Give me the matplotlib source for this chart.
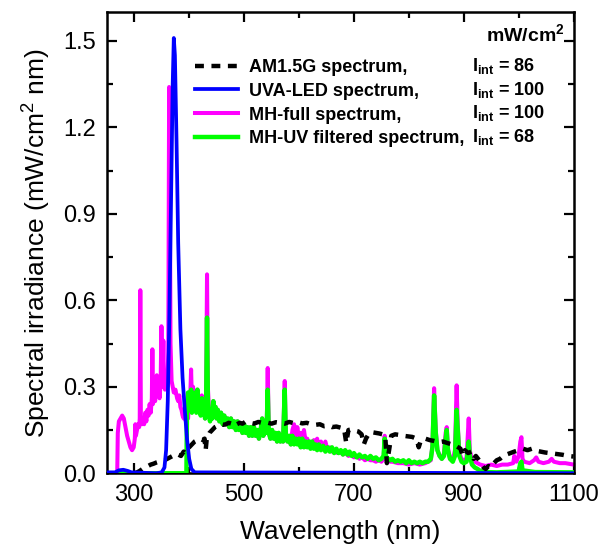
import matplotlib
matplotlib.use("Agg")
import matplotlib.pyplot as plt
from matplotlib.ticker import MultipleLocator

plt.rcParams["font.family"] = ["Liberation Sans", "DejaVu Sans"]
plt.rcParams["mathtext.fontset"] = "custom"
plt.rcParams["mathtext.rm"] = "Liberation Sans"
plt.rcParams["mathtext.bf"] = "Liberation Sans:bold"

# ---- data (wavelength nm, irradiance mW/cm2 nm) ----
am15_wl = [300, 305, 310, 315, 320, 325, 330, 335, 340, 345, 350, 355, 360, 365, 370,
           375, 380, 385, 390, 393, 397, 400, 405, 410, 415, 420, 425, 428, 430, 432,
           437, 442, 447, 452, 457, 462, 467, 472, 477, 482, 487, 492, 497, 502, 510,
           518, 526, 534, 542, 550, 558, 566, 574, 582, 590, 598, 606, 614, 622, 630,
           638, 646, 654, 660, 668, 676, 682, 686, 690, 696, 702, 708, 714, 718, 722,
           728, 734, 740, 746, 752, 757, 760, 764, 768, 775, 782, 790, 798, 806, 814,
           818, 822, 830, 838, 846, 854, 862, 870, 878, 886, 894, 898, 902, 908, 914,
           918, 922, 928, 932, 936, 940, 945, 950, 955, 960, 966, 972, 978, 985, 992,
           1000, 1008, 1016, 1024, 1032, 1040, 1048, 1056, 1064, 1072, 1080, 1090, 1100]
am15_val = [0.0, 0.003, 0.008, 0.015, 0.02, 0.025, 0.03, 0.033, 0.037, 0.04, 0.045, 0.045,
            0.05, 0.055, 0.06, 0.058, 0.065, 0.06, 0.075, 0.07, 0.085, 0.09, 0.10, 0.11,
            0.115, 0.12, 0.115, 0.12, 0.08, 0.12, 0.14, 0.15, 0.16, 0.165, 0.17, 0.168,
            0.17, 0.175, 0.172, 0.178, 0.17, 0.175, 0.172, 0.178, 0.175, 0.172, 0.178,
            0.174, 0.176, 0.172, 0.177, 0.175, 0.172, 0.178, 0.174, 0.177, 0.173, 0.175,
            0.17, 0.168, 0.17, 0.163, 0.165, 0.16, 0.162, 0.158, 0.155, 0.105, 0.15,
            0.152, 0.148, 0.145, 0.135, 0.10, 0.12, 0.14, 0.142, 0.14, 0.138, 0.135,
            0.13, 0.035, 0.08, 0.13, 0.135, 0.133, 0.13, 0.128, 0.126, 0.12, 0.09, 0.115,
            0.12, 0.115, 0.112, 0.108, 0.11, 0.105, 0.10, 0.095, 0.085, 0.06, 0.08, 0.07,
            0.075, 0.05, 0.06, 0.045, 0.03, 0.02, 0.015, 0.025, 0.02, 0.035, 0.045, 0.05,
            0.06, 0.065, 0.07, 0.075, 0.08, 0.085, 0.08, 0.085, 0.078, 0.075, 0.072, 0.07,
            0.068, 0.066, 0.064, 0.06, 0.058]

led_wl = [250, 265, 272, 280, 288, 295, 340, 350, 355, 358, 361, 364, 367, 370, 372,
          374, 377, 380, 384, 388, 392, 396, 400, 404, 410, 1100]
led_val = [0.003, 0.003, 0.01, 0.012, 0.008, 0.003, 0.0, 0.003, 0.02, 0.08, 0.25, 0.55,
           0.95, 1.35, 1.51, 1.45, 1.15, 0.80, 0.50, 0.33, 0.22, 0.12, 0.05, 0.015,
           0.003, 0.0]

mh_wl = [266, 269, 270, 272, 275, 278, 281, 284, 287, 290, 293, 296, 299, 301, 302, 303,
         305, 307, 309, 310, 311, 312, 314, 316, 318, 320, 322, 324, 326, 328, 330, 332,
         333, 334, 336, 338, 340, 341, 342, 344, 346, 348, 349.5, 351, 352, 353, 354,
         356, 358, 360, 362, 363.5, 365, 366, 368, 370, 372, 375, 378, 380, 382, 384,
         386, 388, 390, 392, 394, 396, 398, 400, 402, 403.5, 405, 407, 409, 411, 413,
         415, 417, 419, 421, 423, 425, 427, 429, 431, 432.5, 434, 436, 438,
         440, 442, 444, 446, 448, 450, 452, 455, 458, 461, 464, 467, 470, 473, 476, 479,
         482, 485, 488, 491, 494, 497, 500, 503, 506, 509, 512, 515, 518, 521, 524, 527,
         530, 533, 535, 538, 541, 543, 545, 548, 551, 554, 557, 560, 563, 566, 569, 571,
         574, 576, 579, 582, 585, 588, 591, 594, 597, 600, 603, 606, 609, 612, 615, 618,
         621, 624, 627, 630, 633, 636, 640, 644, 648, 652, 656, 660, 665, 670, 675, 680,
         685, 690, 695, 700, 705, 710, 715, 720, 725, 730, 735, 740, 745, 750, 754, 756,
         758, 762, 766, 770, 780, 790, 800, 810, 820, 830, 840, 843, 846, 849, 852, 856,
         860, 864, 867, 869, 871, 875, 880, 884, 887, 889, 892, 896, 900, 905, 909, 911,
         915, 920, 925, 930, 940, 950, 960, 970, 980, 990, 992, 996, 1000, 1003, 1005,
         1007, 1010, 1020, 1028, 1032, 1036, 1045, 1055, 1060, 1064, 1075, 1085, 1100]
mh_val = [0.0, 0.0, 0.14, 0.18, 0.19, 0.20, 0.19, 0.16, 0.13, 0.11, 0.09, 0.08, 0.09, 0.12,
          0.17, 0.13, 0.15, 0.17, 0.16, 0.19, 0.635, 0.20, 0.17, 0.19, 0.17, 0.21, 0.18,
          0.22, 0.20, 0.24, 0.21, 0.26, 0.43, 0.24, 0.28, 0.25, 0.29, 0.34, 0.27, 0.30,
          0.26, 0.31, 0.51, 0.30, 0.36, 0.46, 0.31, 0.29, 0.33, 0.30, 0.42, 1.34, 0.9,
          0.45, 0.32, 0.30, 0.28, 0.29, 0.26, 0.25, 0.27, 0.23, 0.22, 0.20, 0.19, 0.22,
          0.18, 0.20, 0.19, 0.26, 0.27, 0.36, 0.25, 0.30, 0.24, 0.28, 0.22, 0.29, 0.23,
          0.26, 0.21, 0.27, 0.22, 0.24, 0.19, 0.28, 0.69, 0.30, 0.22, 0.19,
          0.22, 0.19, 0.25, 0.20, 0.23, 0.19, 0.22, 0.18, 0.21, 0.17, 0.20, 0.17, 0.19,
          0.16, 0.19, 0.16, 0.18, 0.15, 0.18, 0.15, 0.17, 0.14, 0.17, 0.14, 0.16, 0.13,
          0.16, 0.13, 0.16, 0.13, 0.15, 0.12, 0.15, 0.19, 0.13, 0.15, 0.14, 0.365, 0.14,
          0.12, 0.15, 0.12, 0.14, 0.11, 0.14, 0.11, 0.13, 0.11, 0.32, 0.13, 0.11, 0.13,
          0.10, 0.15, 0.17, 0.13, 0.16, 0.12, 0.14, 0.12, 0.15, 0.11, 0.12, 0.10, 0.11,
          0.09, 0.115, 0.10, 0.12, 0.09, 0.11, 0.085, 0.11, 0.08, 0.09, 0.075, 0.08,
          0.07, 0.075, 0.065, 0.07, 0.06, 0.065, 0.055, 0.06, 0.05, 0.055, 0.045, 0.05,
          0.045, 0.045, 0.04, 0.045, 0.04, 0.05, 0.13, 0.05, 0.045, 0.04, 0.04, 0.035,
          0.035, 0.03, 0.035, 0.03, 0.035, 0.045, 0.10, 0.295, 0.15, 0.08, 0.06, 0.05,
          0.07, 0.14, 0.16, 0.09, 0.05, 0.045, 0.08, 0.305, 0.17, 0.07, 0.05, 0.045,
          0.05, 0.19, 0.08, 0.045, 0.04, 0.035, 0.03, 0.025, 0.03, 0.025, 0.03, 0.03,
          0.035, 0.06, 0.04, 0.06, 0.11, 0.125, 0.05, 0.04, 0.035, 0.045, 0.055, 0.04,
          0.035, 0.04, 0.05, 0.04, 0.035, 0.035, 0.03]

uv_wl = [250, 395, 396, 398, 400, 402, 403.5, 405, 407, 409, 411, 413, 415, 417, 419,
         421, 423, 425, 427, 429, 431, 432.5, 434, 436, 438, 440, 442, 444, 446, 448,
         450, 452, 455, 458, 461, 464, 467, 470, 473, 476, 479, 482, 485, 488, 491, 494,
         497, 500, 503, 506, 509, 512, 515, 518, 521, 524, 527, 530, 533, 535, 538, 541,
         543, 545, 548, 551, 554, 557, 560, 563, 566, 569, 571, 574, 576, 579, 582, 585,
         588, 591, 594, 597, 600, 603, 606, 609, 612, 615, 618, 621, 624, 627, 630, 633,
         636, 640, 644, 648, 652, 656, 660, 664, 668, 672, 676, 680, 684, 688, 692, 696,
         700, 705, 710, 715, 720, 725, 730, 735, 740, 745, 750, 754, 756, 758, 762, 766,
         770, 775, 780, 785, 790, 795, 800, 805, 810, 815, 820, 825, 830, 835, 840, 843,
         846, 849, 852, 856, 860, 864, 867, 869, 871, 875, 880, 884, 887, 889, 892, 896,
         900, 905, 909, 911, 915, 920, 925, 930, 940, 960, 1000, 1003, 1005, 1007, 1030,
         1100]
uv_val = [0.0, 0.0, 0.22, 0.28, 0.26, 0.22, 0.29, 0.21, 0.27, 0.23, 0.28, 0.21, 0.29,
          0.22, 0.25, 0.20, 0.26, 0.21, 0.23, 0.19, 0.27, 0.54, 0.26, 0.20, 0.18, 0.22,
          0.19, 0.25, 0.20, 0.23, 0.19, 0.22, 0.18, 0.21, 0.17, 0.20, 0.17, 0.19, 0.16,
          0.19, 0.16, 0.18, 0.15, 0.18, 0.15, 0.17, 0.14, 0.17, 0.14, 0.16, 0.13, 0.16,
          0.13, 0.16, 0.13, 0.15, 0.12, 0.15, 0.19, 0.13, 0.15, 0.14, 0.29, 0.14, 0.12,
          0.15, 0.12, 0.14, 0.11, 0.14, 0.11, 0.13, 0.11, 0.29, 0.13, 0.11, 0.13, 0.10,
          0.13, 0.10, 0.12, 0.10, 0.12, 0.09, 0.12, 0.09, 0.11, 0.09, 0.11, 0.085, 0.11,
          0.085, 0.10, 0.08, 0.10, 0.08, 0.095, 0.075, 0.09, 0.075, 0.09, 0.07, 0.085,
          0.07, 0.08, 0.065, 0.08, 0.065, 0.075, 0.06, 0.07, 0.055, 0.065, 0.055, 0.06,
          0.05, 0.06, 0.05, 0.055, 0.045, 0.05, 0.06, 0.12, 0.06, 0.05, 0.045, 0.05,
          0.04, 0.045, 0.04, 0.045, 0.035, 0.045, 0.035, 0.04, 0.035, 0.04, 0.035, 0.04,
          0.04, 0.05, 0.09, 0.27, 0.14, 0.08, 0.06, 0.05, 0.06, 0.12, 0.15, 0.08, 0.05,
          0.04, 0.06, 0.22, 0.15, 0.06, 0.04, 0.035, 0.04, 0.11, 0.06, 0.03, 0.02, 0.015,
          0.008, 0.004, 0.003, 0.006, 0.035, 0.04, 0.01, 0.004, 0.003]

labels = ["AM1.5G spectrum,", "UVA-LED spectrum,", "MH-full spectrum,",
          "MH-UV filtered spectrum,"]
i_int = [86, 100, 100, 68]

fig = plt.figure(figsize=(6, 5.49), dpi=100)
ax = fig.add_axes([0.178, 0.138, 0.778, 0.84])

l_mh, = ax.plot(mh_wl, mh_val, color="#ff00ff", lw=2.9, zorder=2)
l_uv, = ax.plot(uv_wl, uv_val, color="#00ff00", lw=3.2, zorder=3)
l_am, = ax.plot(am15_wl, am15_val, color="black", lw=3.2, ls=(0, (2.0, 1.7)), zorder=4)
l_led, = ax.plot(led_wl, led_val, color="#0000ff", lw=2.7, zorder=5)

ax.set_xlim(250, 1100)
ax.set_ylim(0, 1.6)
ax.xaxis.set_major_locator(MultipleLocator(200))
ax.xaxis.set_minor_locator(MultipleLocator(100))
ax.set_xticks([300, 500, 700, 900, 1100])
ax.yaxis.set_major_locator(MultipleLocator(0.3))
ax.yaxis.set_minor_locator(MultipleLocator(0.15))
ax.yaxis.set_major_formatter(plt.FuncFormatter(lambda v, p: f"{v:.1f}"))
ax.tick_params(which="both", direction="in", top=True, right=True, width=1.6)
ax.tick_params(which="major", length=7, labelsize=17, pad=8)
ax.tick_params(which="minor", length=4)
for s in ax.spines.values():
    s.set_linewidth(1.8)

ax.set_xlabel("Wavelength (nm)", fontsize=19, labelpad=10)
ax.set_ylabel("Spectral irradiance (mW/cm$^2$ nm)", fontsize=19, labelpad=8)

leg = ax.legend([l_am, l_led, l_mh, l_uv], labels, loc="upper left",
                bbox_to_anchor=(0.189, 0.8985), frameon=False,
                prop=dict(weight="bold", size=13), handlelength=2.4,
                handletextpad=0.6, labelspacing=0.38, borderpad=0, borderaxespad=0)

ax.text(0.981, 0.950, r"mW/cm$^\mathbf{2}$", transform=ax.transAxes, ha="right",
        va="center", fontsize=14, fontweight="bold")
for k, v in enumerate(i_int):
    ax.text(0.782, 0.883 - k * 0.051, r"$\mathbf{I_{int}}$" + f" = {v}",
            transform=ax.transAxes, ha="left", va="center", fontsize=13,
            fontweight="bold")

fig.savefig("out.png", dpi=100)
